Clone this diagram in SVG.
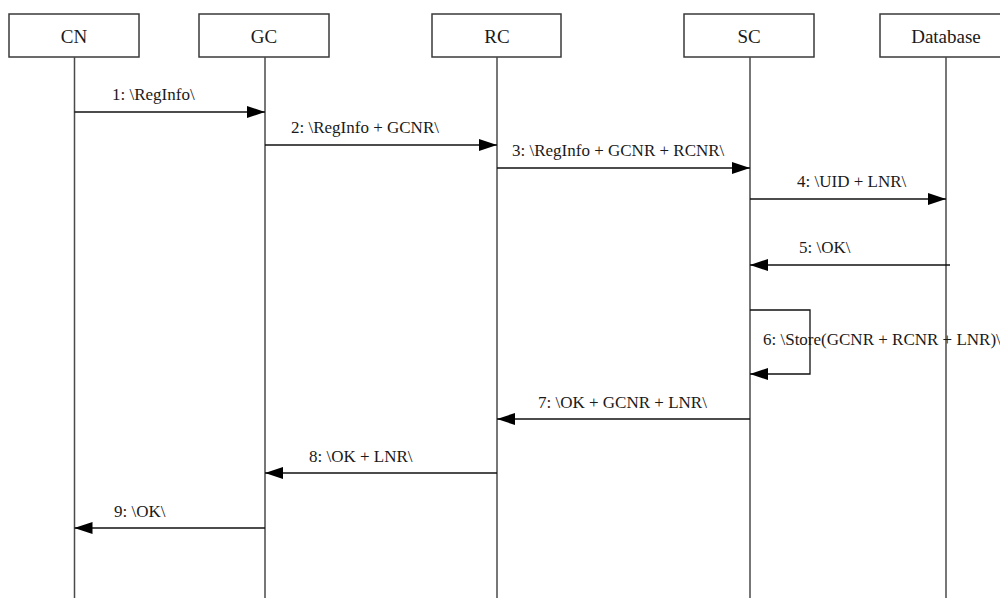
<svg xmlns="http://www.w3.org/2000/svg" width="1000" height="598" viewBox="0 0 1000 598">
<style>
.box{fill:#fff;stroke:#3a3a3a;stroke-width:1.5}
.life{stroke:#4a4a4a;stroke-width:1.5}
.msg{stroke:#111;stroke-width:1.3;fill:none}
text{font-family:"Liberation Serif","Times New Roman",serif;font-size:17px;fill:#1a1a1a}
.t{text-anchor:middle;font-size:19px}
</style>
<defs>
<marker id="ah" markerWidth="18" markerHeight="12" refX="18" refY="6" orient="auto" markerUnits="userSpaceOnUse">
<path d="M0,0 L18,6 L0,12 Z" fill="#000"/>
</marker>
</defs>
<rect width="1000" height="598" fill="#fff"/>
<g id="CN"><rect class="box" x="9" y="14" width="130" height="43"/><line class="life" x1="74.5" y1="57" x2="74.5" y2="598"/><text class="t" x="74" y="43">CN</text></g>
<g id="GC"><rect class="box" x="199" y="14" width="130" height="43"/><line class="life" x1="265" y1="57" x2="265" y2="598"/><text class="t" x="264" y="43">GC</text></g>
<g id="RC"><rect class="box" x="432" y="14" width="129" height="43"/><line class="life" x1="497" y1="57" x2="497" y2="598"/><text class="t" x="497" y="43">RC</text></g>
<g id="SC"><rect class="box" x="684" y="14" width="130" height="43"/><line class="life" x1="750" y1="57" x2="750" y2="598"/><text class="t" x="749" y="43">SC</text></g>
<g id="Database"><rect class="box" x="880" y="14" width="132" height="43"/><line class="life" x1="946" y1="57" x2="946" y2="598"/><text class="t" x="946" y="43">Database</text></g>
<g id="connectors">
<line class="msg" x1="74.5" y1="112" x2="265" y2="112" marker-end="url(#ah)"/>
<line class="msg" x1="265" y1="145" x2="497" y2="145" marker-end="url(#ah)"/>
<line class="msg" x1="497" y1="168" x2="750" y2="168" marker-end="url(#ah)"/>
<line class="msg" x1="750" y1="199" x2="946" y2="199" marker-end="url(#ah)"/>
<line class="msg" x1="950" y1="265" x2="750" y2="265" marker-end="url(#ah)"/>
<polyline class="msg" points="750,310 810,310 810,374 750,374" marker-end="url(#ah)"/>
<line class="msg" x1="750" y1="419" x2="497" y2="419" marker-end="url(#ah)"/>
<line class="msg" x1="497" y1="473" x2="265" y2="473" marker-end="url(#ah)"/>
<line class="msg" x1="265" y1="528" x2="74.5" y2="528" marker-end="url(#ah)"/>
<text x="112" y="100">1: \RegInfo\</text>
<text x="291" y="133">2: \RegInfo + GCNR\</text>
<text x="512" y="156">3: \RegInfo + GCNR + RCNR\</text>
<text x="797" y="187">4: \UID + LNR\</text>
<text x="799" y="253">5: \OK\</text>
<text x="763" y="345">6: \Store(GCNR + RCNR + LNR)\</text>
<text x="538" y="408">7: \OK + GCNR + LNR\</text>
<text x="309" y="462">8: \OK + LNR\</text>
<text x="114" y="517">9: \OK\</text>
</g>
</svg>
